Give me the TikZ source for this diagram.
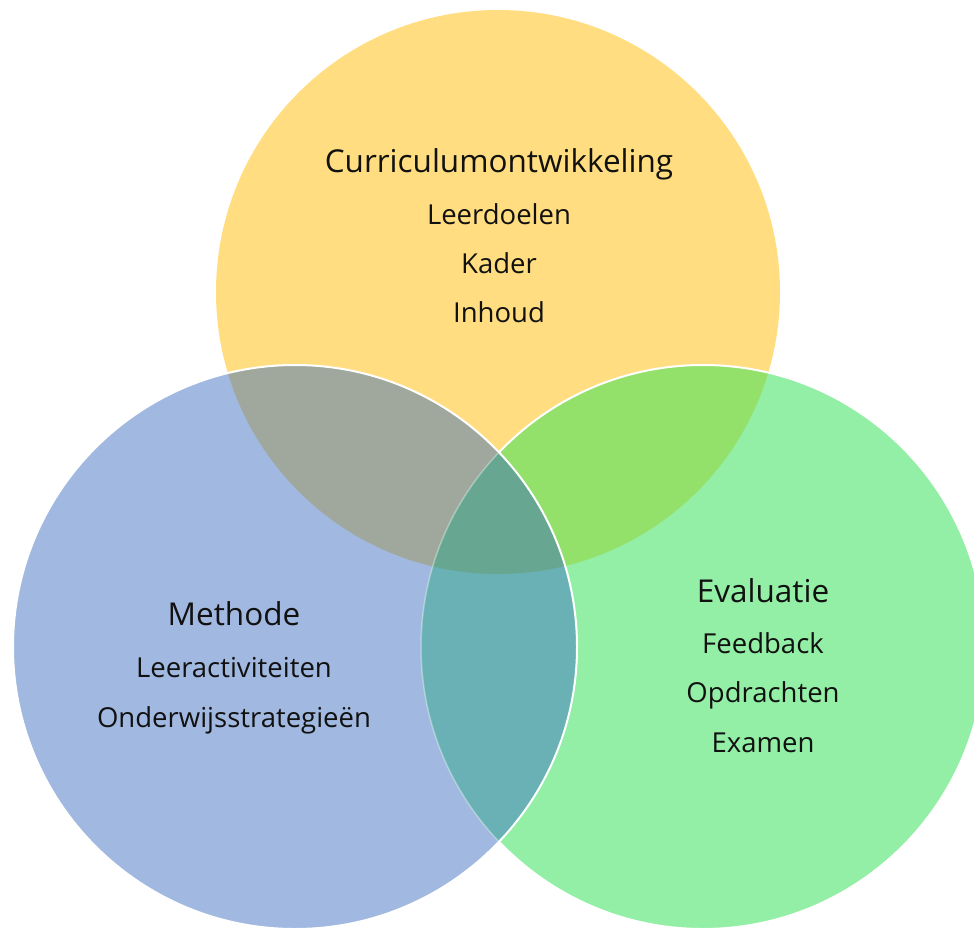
\documentclass[tikz,border=0pt]{standalone}
\usepackage{fontspec}
\setmainfont{Open Sans}
\definecolor{cy}{HTML}{FFDD80}
\definecolor{cb}{HTML}{A1B8E0}
\definecolor{cg}{HTML}{93EFA5}
\definecolor{cyb}{HTML}{A0A89E}
\definecolor{cyg}{HTML}{93E06A}
\definecolor{cbg}{HTML}{69B1B4}
\definecolor{cybg}{HTML}{67A791}
\definecolor{txt}{HTML}{111111}
\tikzset{
  head/.style={anchor=base, text=txt, font=\fontsize{31.5}{38}\selectfont, inner sep=0pt},
  item/.style={anchor=base, text=txt, font=\fontsize{27.5}{32}\selectfont, inner sep=0pt},
  rim/.style={draw=white, line width=2pt}
}
\begin{document}
\begin{tikzpicture}[x=1pt,y=-1pt]
\useasboundingbox (0,0) rectangle (974,931);
\clip (0,0) rectangle (974,931);
\def\R{282}
\coordinate (Y) at (498,292);
\coordinate (B) at (295,647);
\coordinate (G) at (703,647);
% base fills
\fill[cy] (Y) circle (\R);
\fill[cb] (B) circle (\R);
\fill[cg] (G) circle (\R);
% pairwise overlaps
\begin{scope}\clip (Y) circle (\R); \fill[cyb] (B) circle (\R); \end{scope}
\begin{scope}\clip (Y) circle (\R); \fill[cyg] (G) circle (\R); \end{scope}
\begin{scope}\clip (B) circle (\R); \fill[cbg] (G) circle (\R); \end{scope}
\begin{scope}\clip (Y) circle (\R); \clip (B) circle (\R); \fill[cybg] (G) circle (\R); \end{scope}
% outlines
\begin{scope}[even odd rule]
  \clip (-50,-50) rectangle (1100,1000) (B) circle (\R);
  \draw[rim] (G) circle (\R);
\end{scope}
\begin{scope}
  \clip (B) circle (\R);
  \draw[draw=white, opacity=0.35, line width=1.5pt] (G) circle (\R);
\end{scope}
\draw[rim] (B) circle (\R);
% texts
\node[head] (t1) at (499,172) {Curriculumontwikkeling};
\node[item] (t1a) at (499,224) {Leerdoelen};
\node[item] (t1b) at (499,273) {Kader};
\node[item] (t1c) at (499,322) {Inhoud};
\node[head] (t2) at (234,625) {Methode};
\node[item] (t2a) at (234,677) {Leeractiviteiten};
\node[item] (t2b) at (234,727) {Onderwijsstrategieën};
\node[head] (t3) at (763,602) {Evaluatie};
\node[item] (t3a) at (763,653) {Feedback};
\node[item] (t3b) at (763,702) {Opdrachten};
\node[item] (t3c) at (763,752) {Examen};
\end{tikzpicture}
\end{document}
